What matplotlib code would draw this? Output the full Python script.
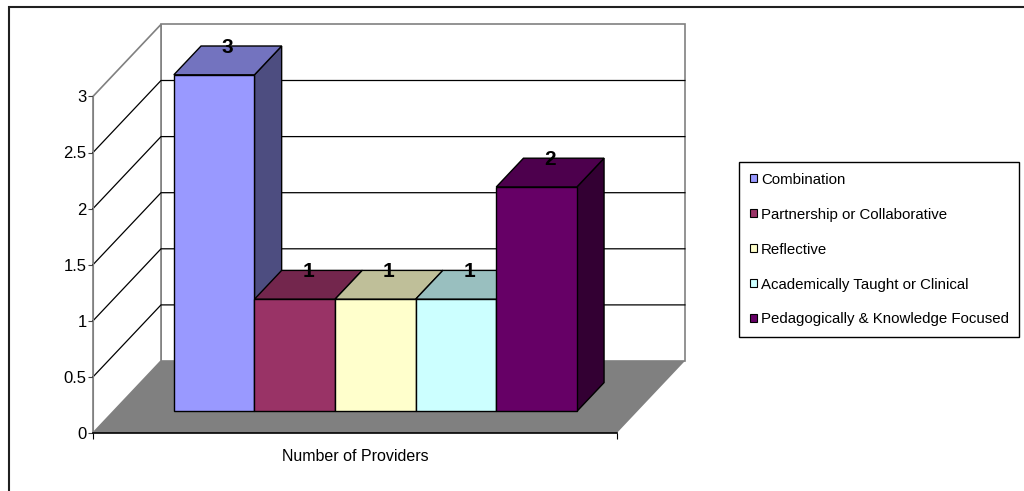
import matplotlib.pyplot as plt
from matplotlib.patches import Polygon, Rectangle, Patch
from matplotlib.colors import to_rgb

plt.rcParams['font.family'] = ['Liberation Sans', 'DejaVu Sans']

# Data
series = ["Combination", "Partnership or Collaborative", "Reflective",
          "Academically Taught or Clinical", "Pedagogically & Knowledge Focused"]
values = [3, 1, 1, 1, 2]
colors = ["#9999FF", "#993366", "#FFFFCC", "#CCFFFF", "#660066"]
category = "Number of Providers"
yticks = [0, 0.5, 1, 1.5, 2, 2.5, 3]
ytick_labels = ["0", "0.5", "1", "1.5", "2", "2.5", "3"]


def shade(c, f):
    r, g, b = to_rgb(c)
    return (r * f, g * f, b * f)


fig = plt.figure(figsize=(10.24, 4.91), dpi=100)
ax = fig.add_axes([0, 0, 1, 1])

# one bar width = 80.6 px, one unit of value = 112.2 px
ax.set_xlim(-93 / 80.6, (1024 - 93) / 80.6)
ax.set_ylim(-58 / 112.2, 433 / 112.2)

n = len(values)
gap = 1.5                      # gap width 150 %
width = n + gap                # floor width in bar units
ymax = 3
DX, DY = 68 / 80.6, 72 / 112.2  # depth of the box
front, back = 0.3, 0.7          # bars sit in the middle of the depth

# floor
ax.add_patch(Polygon([(0, 0), (width, 0), (width + DX, DY), (DX, DY)],
                     closed=True, facecolor="#808080", edgecolor="none", zorder=1))
# back wall and side wall
ax.add_patch(Rectangle((DX, DY), width, ymax, facecolor="white",
                       edgecolor="#808080", lw=1.2, zorder=1))
ax.add_patch(Polygon([(0, 0), (DX, DY), (DX, DY + ymax), (0, ymax)],
                     closed=True, facecolor="white", edgecolor="#808080", lw=1.2, zorder=1))

# gridlines along both walls
for v in yticks[1:-1]:
    ax.plot([0, DX, width + DX], [v, v + DY, v + DY], color="black", lw=0.9, zorder=1.5)

# bars, drawn left to right so each front face hides the previous side face
for i, (val, c) in enumerate(zip(values, colors)):
    x0 = gap / 2 + i
    fx, fy = x0 + front * DX, front * DY
    bx, by = x0 + back * DX, back * DY
    side = Polygon([(fx + 1, fy), (bx + 1, by), (bx + 1, by + val), (fx + 1, fy + val)],
                   closed=True, facecolor=shade(c, 0.5), edgecolor="black", lw=1, zorder=2)
    top = Polygon([(fx, fy + val), (fx + 1, fy + val), (bx + 1, by + val), (bx, by + val)],
                  closed=True, facecolor=shade(c, 0.75), edgecolor="black", lw=1, zorder=2)
    face = Rectangle((fx, fy), 1, val, facecolor=c, edgecolor="black", lw=1, zorder=2)
    for p in (side, top, face):
        ax.add_patch(p)
    ax.text(x0 + 0.5 + 0.5 * DX, val + 0.5 * DY + 0.03, str(val), ha="center", va="bottom",
            fontsize=15, fontweight="bold", zorder=3)

# value axis on the front left edge, category axis on the front floor edge
for s in ("top", "right"):
    ax.spines[s].set_visible(False)
ax.spines["left"].set_position(("data", 0))
ax.spines["left"].set_bounds(0, ymax)
ax.spines["left"].set_color("#808080")
ax.spines["bottom"].set_position(("data", 0))
ax.spines["bottom"].set_bounds(0, width)
ax.spines["bottom"].set_linewidth(1.2)

ax.set_yticks(yticks)
ax.set_yticklabels(ytick_labels)
ax.set_xticks([0, width])
ax.set_xticklabels(["", ""])
ax.tick_params(axis="y", direction="out", length=3.5, pad=1, labelsize=12, color="#404040")
ax.tick_params(axis="x", direction="out", length=4, color="black")

ax.set_xlabel(category, fontsize=11.5)
ax.xaxis.set_label_coords(width / 2, -0.145, transform=ax.transData)

# legend
handles = [Patch(facecolor=c, edgecolor="black", lw=0.8) for c in colors]
ax.legend(handles, series, loc="upper left", bbox_to_anchor=(739 / 1024, 1 - 162 / 491),
          bbox_transform=fig.transFigure, fontsize=10.8, frameon=True, fancybox=False,
          edgecolor="black", framealpha=1, handlelength=0.5, handleheight=0.5,
          handletextpad=0.25, labelspacing=1.4, borderpad=0.7, borderaxespad=0)

# chart area border
fig.add_artist(Rectangle((9 / 1024, -0.1), 1.1, 1.1 - 7 / 491, transform=fig.transFigure,
                         fill=False, edgecolor="#202020", lw=1.5))

fig.savefig("out.png", dpi=100)
